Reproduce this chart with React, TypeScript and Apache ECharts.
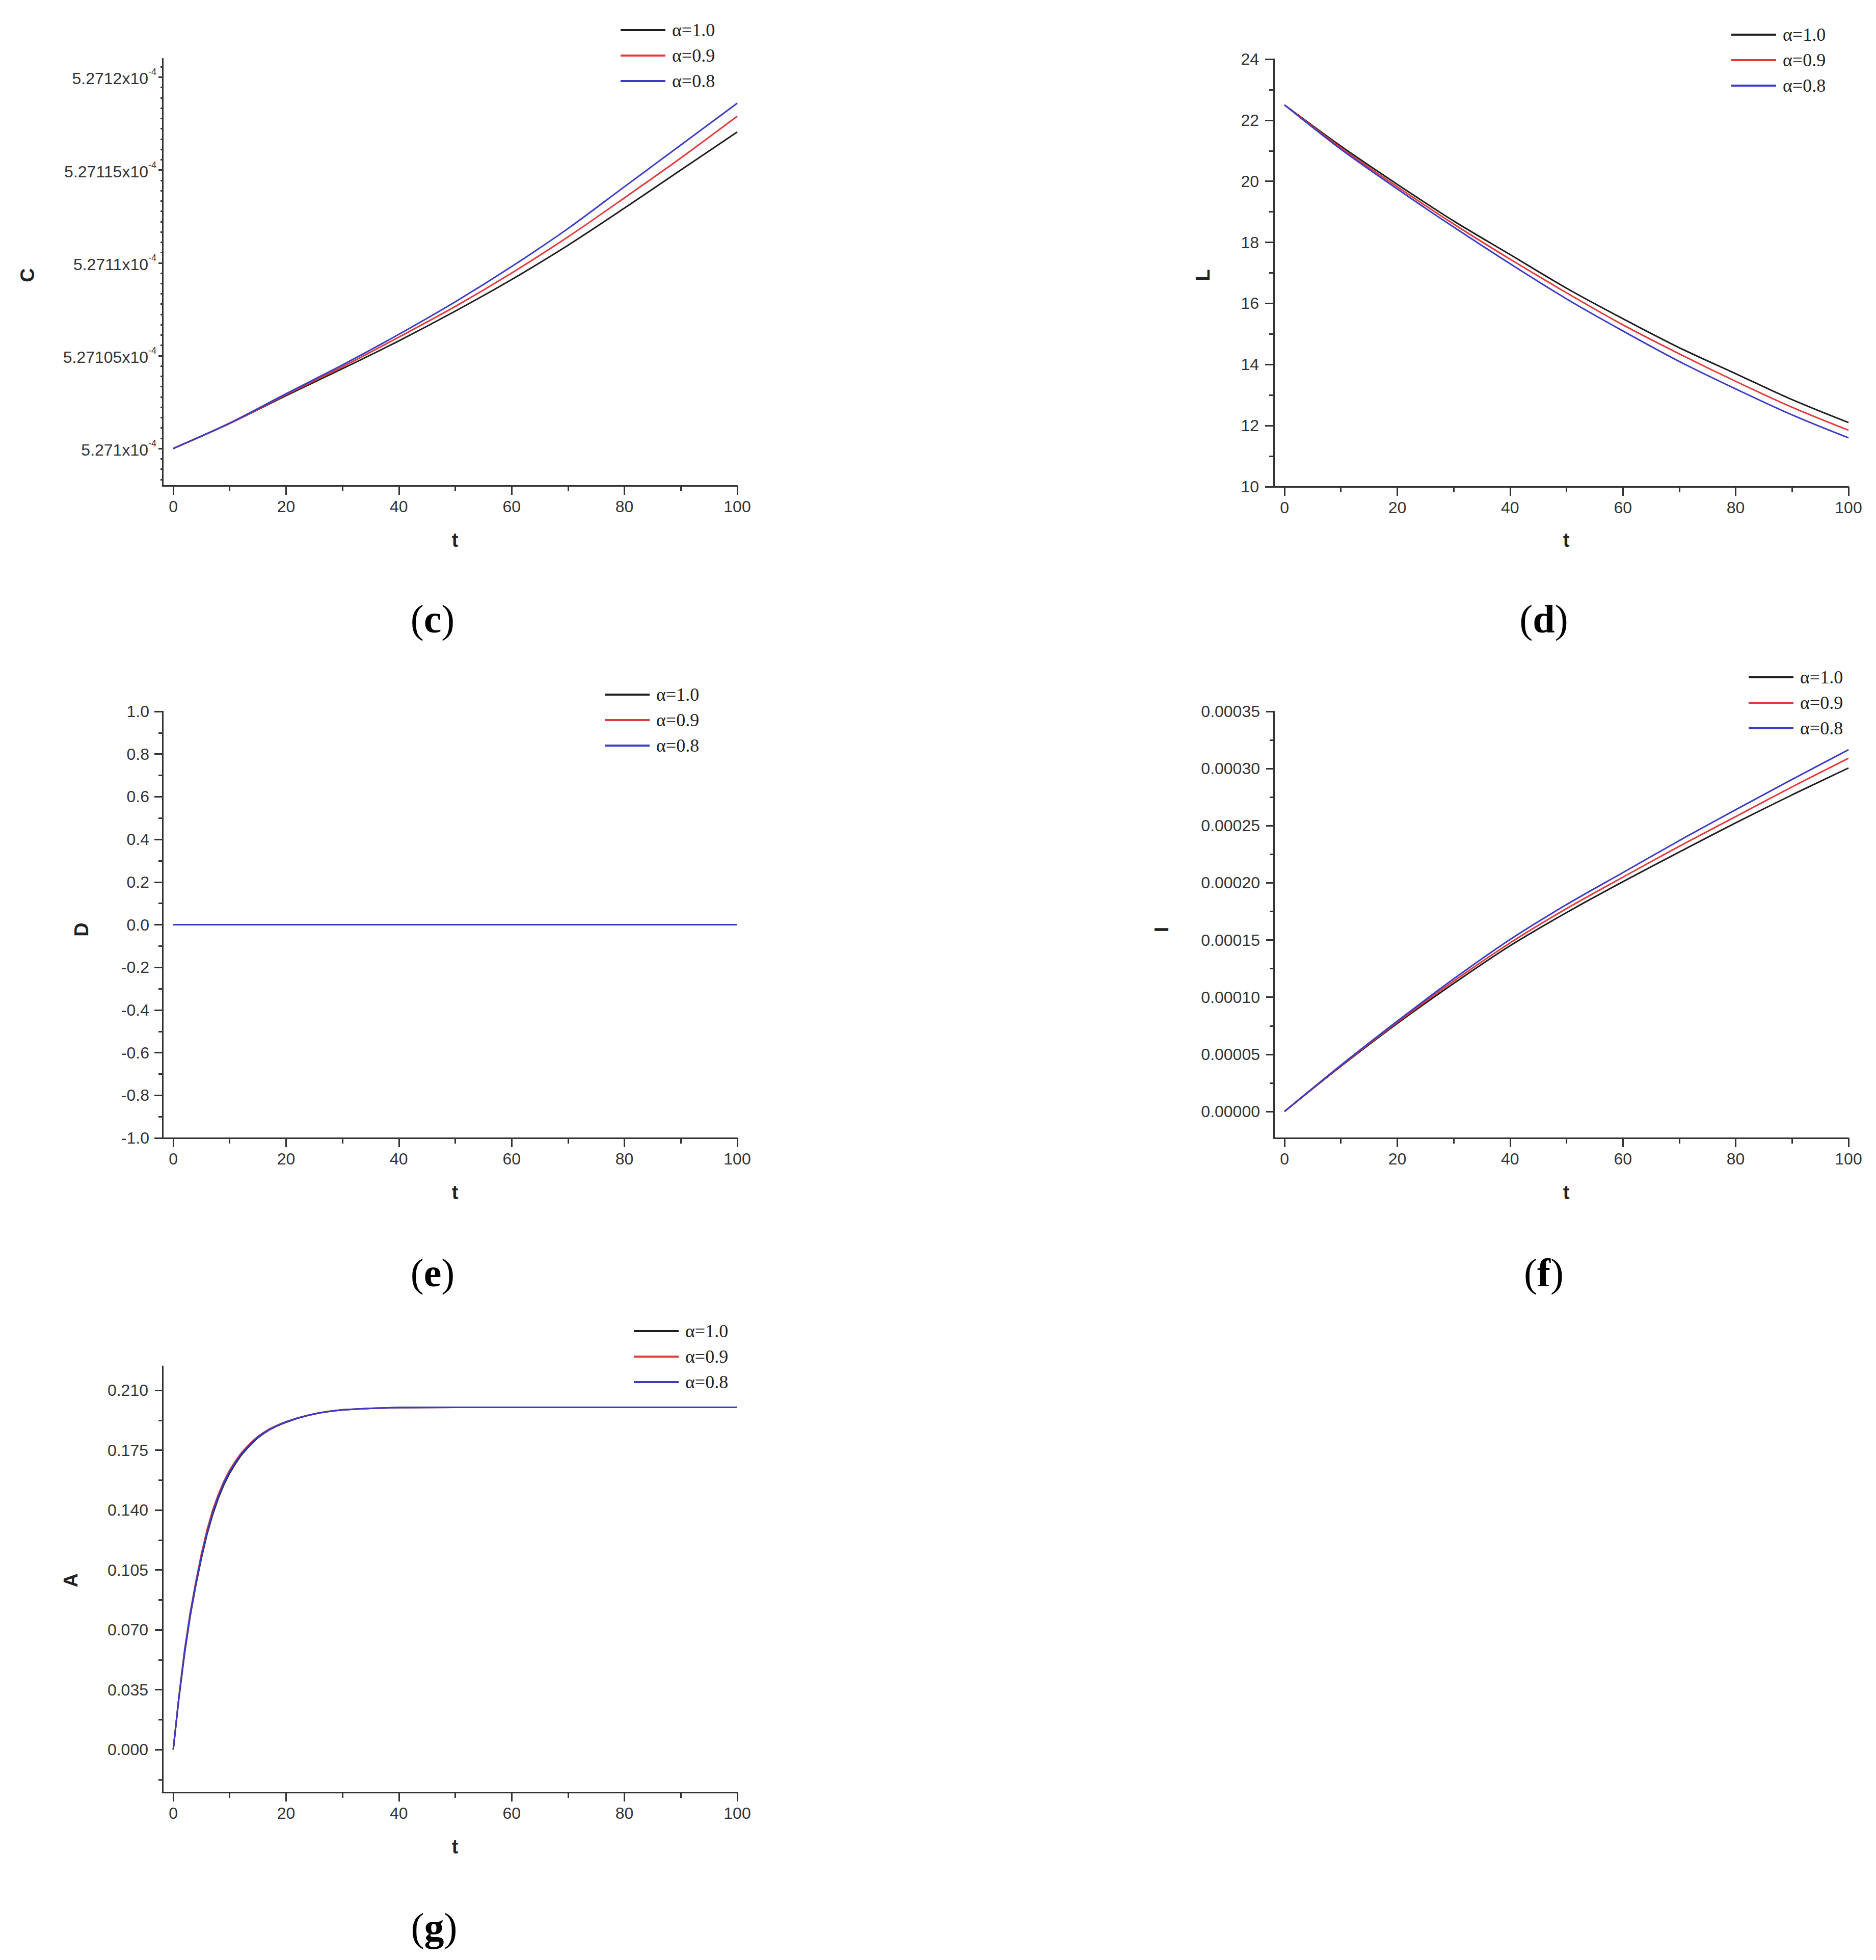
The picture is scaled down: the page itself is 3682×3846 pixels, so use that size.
import React, { useEffect, useRef } from "react";
import * as echarts from "echarts";

// ---------------- DATA ----------------
const SERIES_NAMES = ["α=1.0", "α=0.9", "α=0.8"];
const SERIES_COLORS = ["#1e1e1e", "#e23a3a", "#3b3bc6"];

const T10 = [0, 10, 20, 30, 40, 50, 60, 70, 80, 90, 100];

// (c) C(t)
const C_A10 = [5.271e-4, 5.2710135e-4, 5.2710285e-4, 5.271043e-4, 5.271058e-4, 5.271074e-4, 5.271091e-4, 5.2711095e-4, 5.2711295e-4, 5.27115e-4, 5.2711705e-4];
const C_A09 = [5.271e-4, 5.2710135e-4, 5.271029e-4, 5.271044e-4, 5.27106e-4, 5.2710765e-4, 5.2710945e-4, 5.271114e-4, 5.271135e-4, 5.2711565e-4, 5.271179e-4];
const C_A08 = [5.271e-4, 5.2710137e-4, 5.2710295e-4, 5.271045e-4, 5.2710615e-4, 5.271079e-4, 5.271098e-4, 5.2711185e-4, 5.271141e-4, 5.2711635e-4, 5.271186e-4];
const C_TICKS = [5.271e-4, 5.27105e-4, 5.2711e-4, 5.27115e-4, 5.2712e-4];

// (d) L(t)
const L_A10 = [22.5, 21.15, 19.9, 18.7, 17.6, 16.5, 15.5, 14.55, 13.7, 12.85, 12.1];
const L_A09 = [22.5, 21.1, 19.82, 18.6, 17.45, 16.35, 15.3, 14.35, 13.45, 12.6, 11.85];
const L_A08 = [22.5, 21.05, 19.75, 18.5, 17.3, 16.15, 15.1, 14.1, 13.2, 12.35, 11.6];
const L_TICKS = [10, 12, 14, 16, 18, 20, 22, 24];

// (e) D(t)
const D_A10 = [0, 0, 0, 0, 0, 0, 0, 0, 0, 0, 0];
const D_A09 = [0, 0, 0, 0, 0, 0, 0, 0, 0, 0, 0];
const D_A08 = [0, 0, 0, 0, 0, 0, 0, 0, 0, 0, 0];
const D_TICKS = [-1.0, -0.8, -0.6, -0.4, -0.2, 0.0, 0.2, 0.4, 0.6, 0.8, 1.0];

// (f) I(t)
const I_A10 = [0, 0.0000395, 0.000077, 0.000112, 0.000145, 0.000174, 0.000201, 0.000227, 0.0002525, 0.000277, 0.0003005];
const I_A09 = [0, 0.00004, 0.000078, 0.000114, 0.0001475, 0.0001775, 0.000205, 0.000232, 0.000258, 0.000284, 0.000309];
const I_A08 = [0, 0.0000405, 0.000079, 0.000116, 0.0001505, 0.000181, 0.000209, 0.000237, 0.000264, 0.0002905, 0.0003165];
const I_TICKS = [0, 0.00005, 0.0001, 0.00015, 0.0002, 0.00025, 0.0003, 0.00035];

// (g) A(t)
const TG = [0, 1, 2, 3, 4, 5, 6, 7, 8, 9, 10, 11, 12, 13, 14, 15, 16, 17, 18, 19, 20, 22, 24, 26, 28, 30, 35, 40, 50, 60, 70, 80, 90, 100];
const A_A10 = [0, 0.03, 0.056, 0.078, 0.096, 0.112, 0.126, 0.1375, 0.147, 0.155, 0.1615, 0.167, 0.1718, 0.1757, 0.1792, 0.1822, 0.1847, 0.1868, 0.1885, 0.19, 0.1913, 0.1936, 0.1954, 0.1968, 0.1978, 0.1985, 0.1994, 0.1999, 0.2, 0.2, 0.2, 0.2, 0.2, 0.2];
const A_A09 = [0, 0.031, 0.058, 0.08, 0.098, 0.1145, 0.1285, 0.14, 0.1492, 0.157, 0.1633, 0.1685, 0.1731, 0.1768, 0.1801, 0.183, 0.1853, 0.1873, 0.1889, 0.1903, 0.1916, 0.1938, 0.1955, 0.1969, 0.1979, 0.1986, 0.1994, 0.1999, 0.2, 0.2, 0.2, 0.2, 0.2, 0.2];
const A_A08 = [0, 0.0305, 0.057, 0.079, 0.097, 0.113, 0.127, 0.1388, 0.1481, 0.156, 0.1624, 0.1678, 0.1725, 0.1762, 0.1797, 0.1826, 0.185, 0.187, 0.1887, 0.1902, 0.1915, 0.1937, 0.1954, 0.1968, 0.1978, 0.1985, 0.1994, 0.1999, 0.2, 0.2, 0.2, 0.2, 0.2, 0.2];
const A_TICKS = [0, 0.035, 0.07, 0.105, 0.14, 0.175, 0.21];

const X_TICKS = [0, 20, 40, 60, 80, 100];
const X_MINOR = [10, 30, 50, 70, 90];

// ---------------- LAYOUT ----------------
const SANS = "Liberation Sans, Arial, sans-serif";
const SERIF = "Liberation Serif, Times New Roman, serif";
const AX = "#333";
const LABEL_SIZE = 32;
const X_MIN = -1.9;
const X_MAX = 100;

type Panel = {
  left: number; top: number; width: number; height: number;
  yMin: number; yMax: number; yTicks: number[]; yMinor: number[];
  yFmt: (v: number) => string; yRich?: any;
  yTickLen: number; yMinorLen: number; yMargin: number;
  t: number[]; vals: number[][]; smooth: number | boolean;
  legendLeft: number; legendTop: number;
  name: string; nameX: number; nameY: number;
  tX: number; tY: number; tag: string; tagX: number; tagY: number;
};

function minorBetween(ticks: number[], min: number, max: number, parts: number) {
  const step = (ticks[1] - ticks[0]) / parts;
  const out: number[] = [];
  for (let k = -parts; k <= ticks.length * parts; k++) {
    if (k % parts === 0) continue;
    const v = ticks[0] + k * step;
    if (v >= min - 1e-15 && v <= max + 1e-15) out.push(v);
  }
  return out;
}

const cFmt = (v: number) => {
  let s = (v * 1e4).toFixed(5);
  s = s.replace(/0+$/, "");
  return `{m|${s}x10}{s|-4}`;
};

const PANELS: Panel[] = [
  {
    left: 319, top: 115, width: 1128, height: 838,
    yMin: 5.27098e-4, yMax: 5.27121e-4, yTicks: C_TICKS,
    yMinor: minorBetween(C_TICKS, 5.27098e-4, 5.27121e-4, 9),
    yFmt: cFmt,
    yRich: {
      m: { fontSize: LABEL_SIZE, fontFamily: SANS, color: AX, verticalAlign: "bottom", lineHeight: 38 },
      s: { fontSize: 18, fontFamily: SANS, color: AX, verticalAlign: "top", lineHeight: 18 },
    },
    yTickLen: 8, yMinorLen: 4, yMargin: 12,
    t: T10, vals: [C_A10, C_A09, C_A08], smooth: 0.3,
    legendLeft: 1218, legendTop: 41,
    name: "C", nameX: 54, nameY: 540, tX: 893, tY: 1060, tag: "c", tagX: 849, tagY: 1214,
  },
  {
    left: 2500, top: 116, width: 1128, height: 839,
    yMin: 10, yMax: 24, yTicks: L_TICKS, yMinor: [11, 13, 15, 17, 19, 21, 23],
    yFmt: (v) => String(Math.round(v)),
    yTickLen: 17, yMinorLen: 9, yMargin: 29,
    t: T10, vals: [L_A10, L_A09, L_A08], smooth: 0.3,
    legendLeft: 3398, legendTop: 50,
    name: "L", nameX: 2361, nameY: 540, tX: 3074, tY: 1060, tag: "d", tagX: 3030, tagY: 1214,
  },
  {
    left: 319, top: 1396, width: 1128, height: 837,
    yMin: -1, yMax: 1, yTicks: D_TICKS,
    yMinor: [-0.9, -0.7, -0.5, -0.3, -0.1, 0.1, 0.3, 0.5, 0.7, 0.9],
    yFmt: (v) => v.toFixed(1),
    yTickLen: 16, yMinorLen: 8, yMargin: 26,
    t: T10, vals: [D_A10, D_A09, D_A08], smooth: false,
    legendLeft: 1187, legendTop: 1345,
    name: "D", nameX: 160, nameY: 1824, tX: 893, tY: 2340, tag: "e", tagX: 849, tagY: 2497,
  },
  {
    left: 2500, top: 1396, width: 1128, height: 837,
    yMin: -0.0000232, yMax: 0.00035, yTicks: I_TICKS,
    yMinor: [0.000025, 0.000075, 0.000125, 0.000175, 0.000225, 0.000275, 0.000325],
    yFmt: (v) => v.toFixed(5),
    yTickLen: 15, yMinorLen: 8, yMargin: 27,
    t: T10, vals: [I_A10, I_A09, I_A08], smooth: 0.3,
    legendLeft: 3432, legendTop: 1311,
    name: "I", nameX: 2280, nameY: 1824, tX: 3074, tY: 2340, tag: "f", tagX: 3030, tagY: 2497,
  },
  {
    left: 319, top: 2681, width: 1128, height: 836,
    yMin: -0.025, yMax: 0.224, yTicks: A_TICKS,
    yMinor: [-0.0175, 0.0175, 0.0525, 0.0875, 0.1225, 0.1575, 0.1925],
    yFmt: (v) => v.toFixed(3),
    yTickLen: 15, yMinorLen: 8, yMargin: 28,
    t: TG, vals: [A_A10, A_A09, A_A08], smooth: false,
    legendLeft: 1244, legendTop: 2594,
    name: "A", nameX: 139, nameY: 3101, tX: 893, tY: 3624, tag: "g", tagX: 852, tagY: 3781,
  },
];

function buildOption() {
  const grid: any[] = [];
  const xAxis: any[] = [];
  const yAxis: any[] = [];
  const series: any[] = [];
  const legend: any[] = [];
  const graphic: any[] = [];

  PANELS.forEach((p, i) => {
    grid.push({ left: p.left, top: p.top, width: p.width, height: p.height, containLabel: false });
    xAxis.push({
      type: "value", gridIndex: i, position: "bottom", min: X_MIN, max: X_MAX,
      axisLine: { show: true, onZero: false, lineStyle: { color: AX, width: 3 } },
      axisTick: { show: true, length: 18, lineStyle: { color: AX, width: 3 }, customValues: X_TICKS },
      axisLabel: { show: true, customValues: X_TICKS, fontSize: LABEL_SIZE, fontFamily: SANS, color: AX, margin: 25 },
      splitLine: { show: false },
    });
    xAxis.push({
      type: "value", gridIndex: i, position: "bottom", min: X_MIN, max: X_MAX,
      axisLine: { show: false, onZero: false },
      axisTick: { show: true, length: 11, lineStyle: { color: AX, width: 3 }, customValues: X_MINOR },
      axisLabel: { show: false },
      splitLine: { show: false },
    });
    yAxis.push({
      type: "value", gridIndex: i, position: "left", min: p.yMin, max: p.yMax,
      axisLine: { show: true, onZero: false, lineStyle: { color: AX, width: 3 } },
      axisTick: { show: true, length: p.yTickLen, lineStyle: { color: AX, width: 3 }, customValues: p.yTicks },
      axisLabel: {
        show: true, customValues: p.yTicks, fontSize: LABEL_SIZE, fontFamily: SANS, color: AX,
        margin: p.yMargin, formatter: (v: number) => p.yFmt(v), rich: p.yRich,
      },
      splitLine: { show: false },
    });
    yAxis.push({
      type: "value", gridIndex: i, position: "left", min: p.yMin, max: p.yMax,
      axisLine: { show: false, onZero: false },
      axisTick: { show: true, length: p.yMinorLen, lineStyle: { color: AX, width: 3 }, customValues: p.yMinor },
      axisLabel: { show: false },
      splitLine: { show: false },
    });

    SERIES_NAMES.forEach((nm, k) => {
      series.push({
        type: "line", name: nm, xAxisIndex: 2 * i, yAxisIndex: 2 * i,
        data: p.t.map((t, j) => [t, p.vals[k][j]]),
        showSymbol: false, symbol: "none",
        smooth: p.smooth,
        lineStyle: { width: 3, color: SERIES_COLORS[k] },
        itemStyle: { color: SERIES_COLORS[k] },
        z: 3 + k,
      });
    });

    legend.push({
      orient: "vertical", left: p.legendLeft, top: p.legendTop, padding: 0,
      itemWidth: 88, itemHeight: 4, itemGap: 14, icon: "rect", selectedMode: false,
      data: SERIES_NAMES,
      textStyle: { fontFamily: SERIF, fontSize: 36, color: "#222", lineHeight: 36, padding: [0, 0, 0, 8] },
    });

    graphic.push({
      type: "text", x: p.nameX, y: p.nameY, rotation: Math.PI / 2,
      style: { text: p.name, fontFamily: SANS, fontWeight: "bold", fontSize: 38, fill: "#222", align: "center", verticalAlign: "middle" },
    });
    graphic.push({
      type: "text", x: p.tX, y: p.tY,
      style: { text: "t", fontFamily: SANS, fontWeight: "bold", fontSize: 38, fill: "#222", align: "center", verticalAlign: "middle" },
    });
    graphic.push({
      type: "text", x: p.tagX, y: p.tagY,
      style: {
        text: `{p|(}{b|${p.tag}}{p|)}`, align: "center", verticalAlign: "middle",
        rich: {
          p: { fontFamily: SERIF, fontSize: 78, fill: "#000", color: "#000" },
          b: { fontFamily: SERIF, fontSize: 78, fontWeight: "bold", fill: "#000", color: "#000" },
        },
      },
    });
  });

  return {
    animation: false,
    backgroundColor: "#ffffff",
    grid, xAxis, yAxis, series, legend, graphic,
  };
}

export default function App() {
  const ref = useRef<HTMLDivElement>(null);
  useEffect(() => {
    document.body.style.margin = "0";
    if (!ref.current) return;
    const chart = echarts.init(ref.current, null, { renderer: "svg" });
    chart.setOption(buildOption() as any);
    return () => chart.dispose();
  }, []);
  return (
    <div
      ref={ref}
      style={{ position: "absolute", left: 0, top: 0, width: 3682, height: 3846, background: "#fff" }}
    />
  );
}
